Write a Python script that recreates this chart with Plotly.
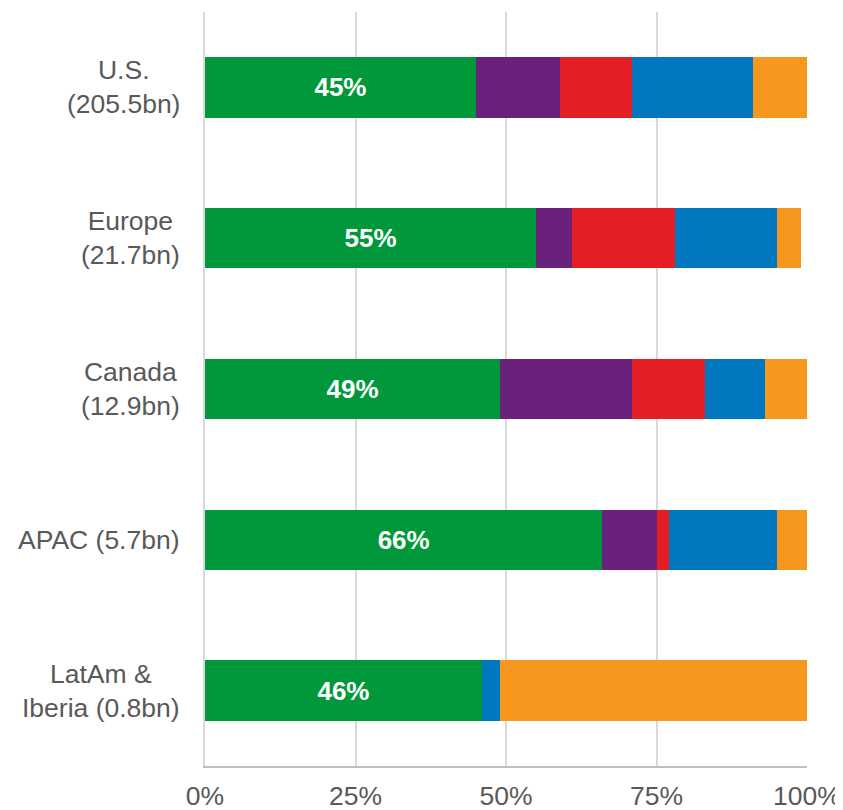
import plotly.graph_objects as go

# 地域別シェア (%)
regions = ["U.S.<br>(205.5bn)", "Europe<br>(21.7bn)", "Canada<br>(12.9bn)",
           "APAC (5.7bn)", "LatAm &<br>Iberia (0.8bn)"]
green = [45, 55, 49, 66, 46]
purple = [14, 6, 22, 9, 0]
red = [12, 17, 12, 2, 0]
blue = [20, 17, 10, 18, 3]
orange = [9, 4, 7, 5, 51]
x_ticks = [0, 25, 50, 75, 100]
x_tick_labels = ["0%", "25%", "50%", "75%", "100%"]

series = [
    (green, "#00983A"),
    (purple, "#6A217B"),
    (red, "#E31E24"),
    (blue, "#0077BF"),
    (orange, "#F7971E"),
]

FONT = "Arial, Liberation Sans, sans-serif"

fig = go.Figure()
for i, (vals, color) in enumerate(series):
    fig.add_trace(go.Bar(
        y=regions, x=vals, orientation="h",
        marker=dict(color=color, line=dict(width=0)),
        text=[f"{v}%" for v in vals] if i == 0 else None,
        textposition="inside" if i == 0 else "none",
        insidetextanchor="middle",
        textfont=dict(family=FONT, size=26, color="white", weight="bold"),
        constraintext="none",
        hoverinfo="x+y",
    ))

# 軸ラベル（中央揃えの複数行）
for r in regions:
    fig.add_annotation(
        x=-0.038, xref="paper", y=r, yref="y",
        text=r, showarrow=False, xanchor="right", align="center",
        font=dict(family=FONT, size=26.5, color="#595959"),
    )

# ページの body 余白 (8px) を差し引いたマージン
fig.update_layout(
    barmode="stack",
    bargap=0.6,
    width=843, height=810,
    margin=dict(l=197, r=44, t=4, b=52, autoexpand=False),
    plot_bgcolor="white", paper_bgcolor="white",
    showlegend=False,
    font=dict(family=FONT, color="#595959"),
)
fig.update_xaxes(
    range=[0, 100], tickvals=x_ticks, ticktext=x_tick_labels,
    showgrid=True, gridcolor="#D9D9D9", gridwidth=2,
    showline=True, linecolor="#BFBFBF", linewidth=2,
    zeroline=False, ticks="", ticklabelstandoff=5, automargin=False,
    tickfont=dict(family=FONT, size=26.5, color="#595959"),
)
fig.update_yaxes(
    categoryorder="array", categoryarray=regions, autorange="reversed",
    showticklabels=False, showgrid=False, zeroline=False, automargin=False,
    showline=True, linecolor="#D9D9D9", linewidth=2, ticks="",
)

fig.write_html("out.html")
